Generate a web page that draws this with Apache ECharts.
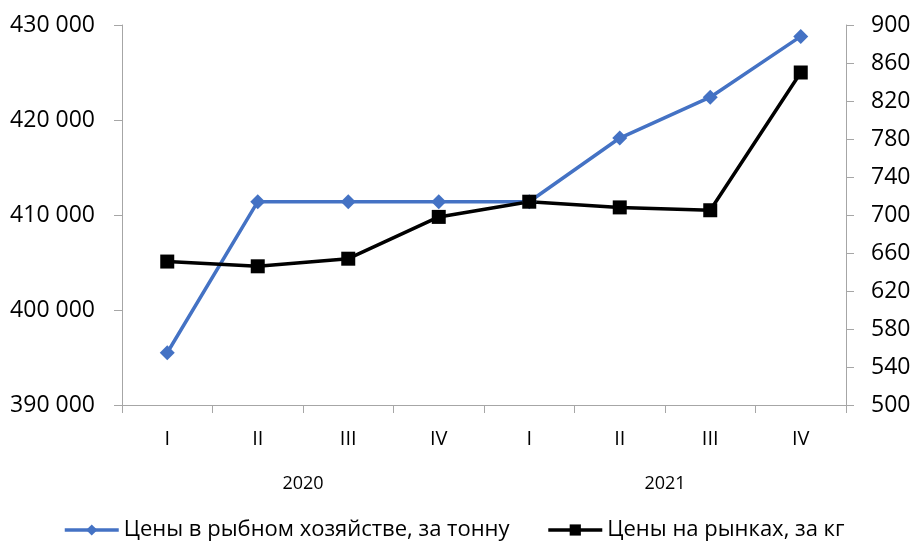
<!DOCTYPE html>
<html>
<head>
<meta charset="utf-8">
<script src="https://cdn.jsdelivr.net/npm/echarts@6/dist/echarts.min.js"></script>
<style>
  html, body { margin: 0; padding: 0; background: #fff; }
  #chart { width: 915px; height: 543px; }
</style>
</head>
<body>
<div id="chart"></div>
<script>
// данные
var quarters = ['I', 'II', 'III', 'IV', 'I', 'II', 'III', 'IV']
var years = ['2020', '2021']
var farmPrices = [395500, 411400, 411400, 411400, 411400, 418100, 422400, 428800]
var marketPrices = [651, 646, 654, 698, 714, 708, 705, 850]
var farmName = 'Цены в рыбном хозяйстве, за тонну'
var marketName = 'Цены на рынках, за кг'

var axisGray = '#a6a6a6'
var font = 'Open Sans'

var chart = echarts.init(document.getElementById('chart'))

var option = {
  backgroundColor: '#fff',
  animation: false,
  textStyle: { fontFamily: font },
  grid: { left: 122, right: 69, top: 25, bottom: 138 },
  legend: {
    top: 519,
    left: 63,
    padding: 0,
    itemWidth: 54,
    itemHeight: 14,
    itemGap: 37,
    lineStyle: { width: 3.5 },
    textStyle: { fontSize: 22, color: '#000', fontFamily: font },
    data: [farmName, marketName]
  },
  xAxis: [
    {
      type: 'category',
      data: quarters,
      position: 'bottom',
      boundaryGap: true,
      axisLine: { lineStyle: { color: axisGray, width: 1 } },
      axisTick: { show: true, length: 8, lineStyle: { color: axisGray } },
      axisLabel: { fontSize: 20, color: '#000', margin: 24 }
    },
    {
      type: 'category',
      data: years,
      position: 'bottom',
      axisLine: { show: false },
      axisTick: { show: false },
      axisLabel: { fontSize: 18, color: '#000', margin: 70 }
    }
  ],
  yAxis: [
    {
      type: 'value',
      min: 390000,
      max: 430000,
      interval: 10000,
      position: 'left',
      splitLine: { show: false },
      axisLine: { show: true, lineStyle: { color: axisGray } },
      axisTick: { show: true, length: 8, lineStyle: { color: axisGray } },
      axisLabel: {
        fontSize: 23,
        color: '#000',
        margin: 27,
        formatter: function (v) {
          return String(v).replace(/\B(?=(\d{3})+(?!\d))/g, ' ')
        }
      }
    },
    {
      type: 'value',
      min: 500,
      max: 900,
      interval: 40,
      position: 'right',
      splitLine: { show: false },
      axisLine: { show: true, lineStyle: { color: axisGray } },
      axisTick: { show: true, length: 8, lineStyle: { color: axisGray } },
      axisLabel: { fontSize: 23, color: '#000', margin: 25 }
    }
  ],
  series: [
    {
      name: farmName,
      type: 'line',
      xAxisIndex: 0,
      yAxisIndex: 0,
      data: farmPrices,
      symbol: 'diamond',
      symbolSize: 15,
      itemStyle: { color: '#4472C4' },
      lineStyle: { color: '#4472C4', width: 3.5 }
    },
    {
      name: marketName,
      type: 'line',
      xAxisIndex: 0,
      yAxisIndex: 1,
      data: marketPrices,
      symbol: 'rect',
      symbolSize: 14,
      itemStyle: { color: '#000' },
      lineStyle: { color: '#000', width: 3.5 }
    }
  ]
}

chart.setOption(option)
</script>
</body>
</html>
